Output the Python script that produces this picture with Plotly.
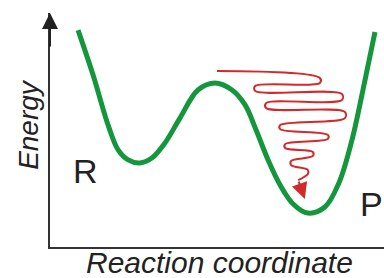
import plotly.graph_objects as go

# Energy profile (reaction coordinate 0-10, energy 0-10)
curve_x = [0.84, 1.29, 1.74, 2.04, 2.34, 2.69, 3.05, 3.44, 3.89, 4.43, 4.94, 5.45,
           5.84, 6.17, 6.53, 6.89, 7.28, 7.72, 8.23, 8.65, 9.04, 9.37, 9.73]
curve_y = [9.27, 7.35, 5.21, 4.15, 3.72, 3.59, 3.80, 4.44, 5.51, 6.71, 7.01, 6.71,
           6.07, 5.00, 3.72, 2.65, 1.84, 1.45, 1.71, 2.74, 4.57, 6.71, 9.19]

# Vibrational relaxation squiggle
wave_x = [5.00, 8.08, 8.08, 6.14, 6.14, 8.74, 8.74, 6.47, 6.47, 8.83, 8.83, 6.89,
          6.89, 8.32, 8.32, 7.04, 7.04, 7.87, 7.87, 7.22, 7.22, 7.72, 7.72, 7.43]
wave_y = [7.52, 7.22, 7.01, 6.88, 6.67, 6.54, 6.28, 6.15, 5.94, 5.77, 5.51, 5.21,
          5.04, 4.79, 4.62, 4.40, 4.23, 4.06, 3.89, 3.68, 3.50, 3.29, 3.12, 2.86]
arrow_tip = (7.63, 2.05)

labels = {"R": "R", "P": "P"}
x_title = "Reaction coordinate"
y_title = "Energy"

GREEN = "#14973c"
RED = "#d3292b"
INK = "#222222"
FONT = "Liberation Sans, Arial, sans-serif"

fig = go.Figure()
fig.add_trace(go.Scatter(x=curve_x, y=curve_y, mode="lines",
                         line=dict(color=GREEN, width=5, shape="spline", smoothing=1.0),
                         hoverinfo="skip"))
fig.add_trace(go.Scatter(x=wave_x, y=wave_y, mode="lines",
                         line=dict(color=RED, width=2, shape="spline", smoothing=1.0),
                         hoverinfo="skip"))

ann = []
# red arrow head
ann.append(dict(x=arrow_tip[0], y=arrow_tip[1], ax=wave_x[-1], ay=wave_y[-1],
                xref="x", yref="y", axref="x", ayref="y", showarrow=True,
                arrowhead=2, arrowsize=1.6, arrowwidth=2, arrowcolor=RED, text="",
                standoff=0))
# energy axis arrow
ann.append(dict(x=0, y=10, ax=0, ay=8.5, xref="x", yref="y", axref="x", ayref="y",
                showarrow=True, arrowhead=2, arrowsize=1.6, arrowwidth=2,
                arrowcolor=INK, text="", standoff=0))


def label(x, y, text, size, angle=0):
    return dict(x=x, y=y, xref="paper", yref="paper", text=text, textangle=angle,
                xanchor="center", yanchor="middle", showarrow=False,
                font=dict(family=FONT, size=size, color=INK))


ann.append(label(0.105, 0.325, labels["R"], 34))
ann.append(label(0.963, 0.184, labels["P"], 34))
ann.append(label(0.507, -0.066, "<i>" + x_title + "</i>", 30))
ann.append(label(-0.063, 0.526, "<i>" + y_title + "</i>", 28, -90))

fig.update_layout(
    width=384, height=278,
    margin=dict(l=50, r=0, t=13, b=31),
    paper_bgcolor="white", plot_bgcolor="white",
    showlegend=False,
    annotations=ann,
    xaxis=dict(range=[0, 10], showline=True, linecolor="#333333", linewidth=2,
               showgrid=False, zeroline=False, showticklabels=False, ticks=""),
    yaxis=dict(range=[0, 10], showline=True, linecolor="#333333", linewidth=2,
               showgrid=False, zeroline=False, showticklabels=False, ticks=""),
)

fig.write_html("out.html", config={"displayModeBar": False},
               post_script="document.body.style.margin='0';document.body.style.overflow='hidden';")
